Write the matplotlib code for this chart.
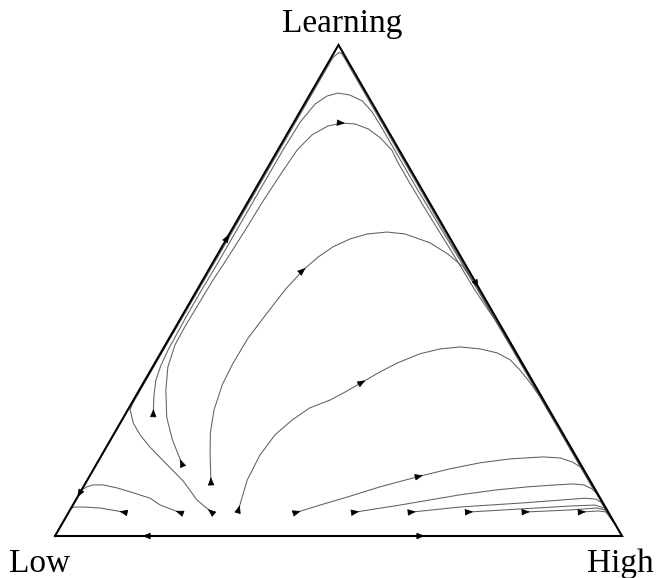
import matplotlib.pyplot as plt
import numpy as np

# Simplex corners (labels) and trajectories given as shares of "High" and
# "Learning"; the "Low" share is 1 - high - learning.
corner_names = ["Low", "High", "Learning"]
corner_high = [0.0, 1.0, 0.0]
corner_learn = [0.0, 0.0, 1.0]

t1_high = [0.094, 0.084, 0.051, 0.020, 0.006, 0.000]
t1_learn = [0.049, 0.051, 0.057, 0.059, 0.059, 0.057]

t2_high = [0.193, 0.154, 0.129, 0.094, 0.060, 0.033, 0.015, 0.006, 0.000]
t2_learn = [0.049, 0.063, 0.077, 0.088, 0.098, 0.104, 0.104, 0.100, 0.094]

t3_high = [0.248, 0.214, 0.170, 0.120, 0.077, 0.047, 0.023, 0.004, 0.002, 0.002, 0.003,
           0.003, 0.003, 0.009, 0.015, 0.030, 0.150, 0.300, 0.500, 0.700, 0.900]
t3_learn = [0.051, 0.073, 0.112, 0.149, 0.181, 0.206, 0.230, 0.257, 0.271, 0.400, 0.600,
            0.800, 0.975, 0.985, 0.982, 0.967, 0.847, 0.697, 0.497, 0.297, 0.097]

t4_high = [0.047, 0.031, 0.019, 0.013, 0.010, 0.009, 0.008, 0.008, 0.009, 0.009, 0.009, 0.009,
           0.009, 0.011, 0.019, 0.032, 0.048, 0.071, 0.099, 0.127, 0.155, 0.196, 0.236, 0.281,
           0.381, 0.475, 0.698, 0.899]
t4_learn = [0.253, 0.287, 0.318, 0.348, 0.379, 0.414, 0.452, 0.495, 0.546, 0.609, 0.668, 0.725,
            0.786, 0.843, 0.880, 0.896, 0.902, 0.898, 0.886, 0.864, 0.837, 0.796, 0.756, 0.711,
            0.613, 0.521, 0.300, 0.100]

t5_high = [0.147, 0.109, 0.076, 0.047, 0.027, 0.017, 0.016, 0.017, 0.018, 0.021, 0.024, 0.026,
           0.030, 0.034, 0.045, 0.064, 0.086, 0.110, 0.138, 0.168, 0.201, 0.225, 0.260, 0.322,
           0.406, 0.490, 0.556, 0.700, 0.900]
t5_learn = [0.151, 0.196, 0.242, 0.297, 0.344, 0.389, 0.430, 0.475, 0.521, 0.562, 0.623, 0.684,
            0.741, 0.786, 0.817, 0.835, 0.841, 0.839, 0.829, 0.811, 0.786, 0.760, 0.725, 0.664,
            0.583, 0.501, 0.440, 0.298, 0.098]

t6_high = [0.218, 0.191, 0.169, 0.152, 0.141, 0.138, 0.139, 0.147, 0.155, 0.167, 0.180, 0.196,
           0.218, 0.243, 0.276, 0.310, 0.363, 0.406, 0.446, 0.485, 0.600, 0.800, 0.950]
t6_learn = [0.114, 0.165, 0.210, 0.257, 0.308, 0.352, 0.403, 0.454, 0.501, 0.542, 0.568, 0.589,
            0.605, 0.615, 0.619, 0.615, 0.597, 0.574, 0.548, 0.511, 0.398, 0.199, 0.049]

t7_high = [0.296, 0.282, 0.279, 0.285, 0.300, 0.319, 0.347, 0.365, 0.386, 0.406, 0.427, 0.458,
           0.489, 0.522, 0.559, 0.593, 0.623, 0.651, 0.682, 0.714, 0.850, 0.950]
t7_learn = [0.057, 0.114, 0.165, 0.206, 0.236, 0.261, 0.277, 0.293, 0.314, 0.334, 0.352, 0.371,
            0.381, 0.385, 0.381, 0.373, 0.359, 0.338, 0.312, 0.283, 0.148, 0.049]

t8_high = [0.404, 0.436, 0.475, 0.523, 0.583, 0.629, 0.675, 0.724, 0.780, 0.811, 0.836, 0.856,
           0.874, 0.950]
t8_learn = [0.049, 0.063, 0.079, 0.100, 0.122, 0.137, 0.149, 0.157, 0.161, 0.159, 0.151, 0.141,
            0.126, 0.049]

t9_high = [0.507, 0.577, 0.673, 0.733, 0.783, 0.830, 0.861, 0.881, 0.899, 0.910, 0.960]
t9_learn = [0.049, 0.063, 0.084, 0.094, 0.100, 0.104, 0.106, 0.104, 0.096, 0.088, 0.039]

t10_high = [0.607, 0.685, 0.787, 0.854, 0.896, 0.917, 0.928, 0.965]
t10_learn = [0.049, 0.059, 0.067, 0.073, 0.077, 0.075, 0.069, 0.034]

t11_high = [0.708, 0.793, 0.878, 0.921, 0.940, 0.970]
t11_learn = [0.049, 0.055, 0.061, 0.063, 0.057, 0.029]

t12_high = [0.808, 0.882, 0.927, 0.944, 0.970]
t12_learn = [0.049, 0.053, 0.057, 0.053, 0.029]

t13_high = [0.907, 0.932, 0.947, 0.970]
t13_learn = [0.049, 0.051, 0.049, 0.029]

trajectories = [(t1_high, t1_learn), (t2_high, t2_learn), (t3_high, t3_learn),
                (t4_high, t4_learn), (t5_high, t5_learn), (t6_high, t6_learn),
                (t7_high, t7_learn), (t8_high, t8_learn), (t9_high, t9_learn),
                (t10_high, t10_learn), (t11_high, t11_learn), (t12_high, t12_learn),
                (t13_high, t13_learn)]

# extra direction arrows part way along some trajectories: {trajectory: point index}
mid_arrows = {4: 16, 5: 9, 6: 8, 7: 4}

# arrows on the edges of the simplex, pointing toward a corner
edge_arrow_high = [0.159, 0.647, 0.000, 0.000, 0.489]
edge_arrow_learn = [0.000, 0.000, 0.084, 0.609, 0.511]
edge_arrow_to = ["Low", "High", "Low", "Learning", "High"]


def to_xy(high, learn):
    high = np.asarray(high, dtype=float)
    learn = np.asarray(learn, dtype=float)
    return high + learn / 2, learn * np.sqrt(3) / 2


def arrow(ax, x0, y0, dx, dy):
    n = np.hypot(dx, dy)
    ax.annotate('', xy=(x0 + dx / n * 0.005, y0 + dy / n * 0.005), xytext=(x0, y0),
                arrowprops=dict(arrowstyle='-|>,head_length=0.5,head_width=0.2',
                                mutation_scale=10, color='black', lw=0.5,
                                shrinkA=0, shrinkB=0))


fig = plt.figure(figsize=(6.57, 5.78), dpi=100)
ax = fig.add_axes([0, 0, 1, 1])

# triangle
cx, cy = to_xy(corner_high + [corner_high[0]], corner_learn + [corner_learn[0]])
ax.plot(cx, cy, color='black', lw=1.5, solid_joinstyle='miter', zorder=3)

# trajectories
for i, (h, l) in enumerate(trajectories):
    x, y = to_xy(h, l)
    ax.plot(x, y, color='#606060', lw=0.75, solid_joinstyle='round', zorder=2)
    arrow(ax, x[0], y[0], x[1] - x[0], y[1] - y[0])
    if i in mid_arrows:
        k = mid_arrows[i]
        arrow(ax, x[k], y[k], x[k + 1] - x[k], y[k + 1] - y[k])

# edge arrows
ex, ey = to_xy(edge_arrow_high, edge_arrow_learn)
for px, py, name in zip(ex, ey, edge_arrow_to):
    j = corner_names.index(name)
    tx, ty = to_xy(corner_high[j], corner_learn[j])
    arrow(ax, px, py, tx - px, ty - py)

# corner labels
label_offsets = {"Low": (-11, -26), "High": (-1, -26), "Learning": (3, 9.5)}
for name, h, l in zip(corner_names, corner_high, corner_learn):
    x, y = to_xy(h, l)
    ax.annotate(name, xy=(x, y), xytext=label_offsets[name], textcoords='offset points',
                ha='center', va='baseline', fontsize=24,
                family=['Liberation Serif', 'DejaVu Serif'])

ax.set_xlim(-0.0970, 1.0617)
ax.set_ylim(-0.0741, 0.9453)
ax.set_aspect('equal')
ax.axis('off')

plt.savefig('out.png', dpi=100)
